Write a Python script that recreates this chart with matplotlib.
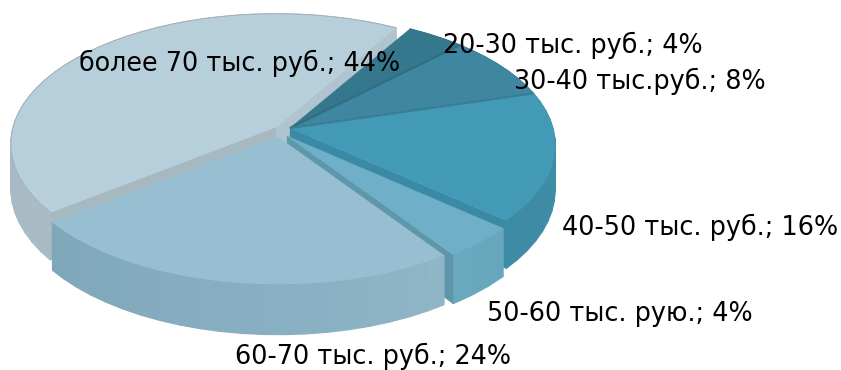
import numpy as np
import matplotlib
matplotlib.use('Agg')
import matplotlib.pyplot as plt
from matplotlib.patches import Polygon

# pie slices, clockwise from the top
labels = ['20-30 тыс. руб.; 4%', '30-40 тыс.руб.; 8%', '40-50 тыс. руб.; 16%',
          '50-60 тыс. рую.; 4%', '60-70 тыс. руб.; 24%', 'более 70 тыс. руб.; 44%']
values = [4, 8, 16, 4, 24, 44]

# colours per slice: top face, outer side (two ends), cut walls
top_colors = ['#35788d', '#3f87a1', '#429ab6', '#6fb0c8', '#98bfd1', '#b7cfdb']
side_colors = [('#2f6b7e', '#2f6b7e'), ('#387a90', '#387a90'), ('#3f8da8', '#3e8ba5'),
               ('#68a6bc', '#6aa8be'), ('#8fb5c7', '#7fa7ba'), ('#a9bcc5', '#a0b2bb')]
wall_colors = ['#2f6f83', '#3a7e95', '#3a8aa5', '#5f97aa', '#7fa7ba', '#afc4ce']
upper_wall = '#a6b8c0'

# which cut walls face the viewer
start_wall = [False, False, False, False, False, True]
end_wall = [False, False, True, True, False, True]

# how far each slice is pulled out, in pixels
shift_x = [0, 0, 0, -3, -12, -14]
shift_y = [0, 0, 0, 8, 9, -1]

# label placement
label_x = [443, 514, 562, 487, 235, 79]
label_y = [53, 89, 235, 321, 364, 71]

START = 59.5
CX, CY = 290, 128
RX, RY = 263, 128
PERSP = 0.13
DEPTH = 44


def project(a):
    u = np.cos(np.radians(a))
    v = np.sin(np.radians(a))
    w = 1 + PERSP * v
    return CX + RX * u / w, CY - RY * v / w, DEPTH / w


fig = plt.figure(figsize=(8.41, 3.70), dpi=100)
ax = fig.add_axes([0, 0, 1, 1])
ax.set_xlim(0, 841)
ax.set_ylim(370, 0)
ax.axis('off')

ends = START - np.cumsum(values) * 3.6
starts = np.r_[START, ends[:-1]]


def draw_wall(apex, wx, wy, wh, col, z):
    ax.add_patch(Polygon([apex, (wx, wy), (wx, wy + wh), (apex[0], apex[1] + DEPTH)],
                         fc=col, ec=col, lw=0.3, zorder=z))


def draw_slice(i):
    a0, a1 = starts[i], ends[i]
    sx, sy = shift_x[i], shift_y[i]
    arc = np.linspace(a0, a1, max(int(abs(a1 - a0) / 4), 3) + 1)
    x, y, h = project(arc)
    x, y = x + sx, y + sy
    apex = (CX + sx, CY + sy)
    z = i_order[i]

    # outer side in narrow bands
    c0 = np.array(matplotlib.colors.to_rgb(side_colors[i][0]))
    c1 = np.array(matplotlib.colors.to_rgb(side_colors[i][1]))
    for k in range(len(arc) - 1):
        t = k / max(len(arc) - 2, 1)
        col = c0 + (c1 - c0) * t
        ax.add_patch(Polygon([(x[k], y[k]), (x[k + 1], y[k + 1]),
                              (x[k + 1], y[k + 1] + h[k + 1]), (x[k], y[k] + h[k])],
                             fc=col, ec=col, lw=0.8, zorder=z))

    # cut walls go over the side
    if start_wall[i]:
        draw_wall(apex, x[0], y[0], h[0], upper_wall, z + 0.2)
    if end_wall[i]:
        draw_wall(apex, x[-1], y[-1], h[-1], wall_colors[i], z + 0.2)

    # top face
    pts = [apex] + list(zip(x, y))
    ax.add_patch(Polygon(pts, fc=top_colors[i], ec=top_colors[i], lw=0.3, zorder=z + 0.5))
    if i == 5:
        ax.plot(x[arc < 170], y[arc < 170], color='#a5aeb2', lw=0.6, zorder=z + 0.6)
    if i < 2:
        # darker seam between the neighbouring teal slices
        ax.plot([apex[0], x[-1]], [apex[1], y[-1]], color=wall_colors[i], lw=1.6,
                solid_capstyle='butt', zorder=7)


# back slices first so the nearer ones sit on top
i_order = {5: 1, 0: 2, 1: 3, 2: 4, 3: 5, 4: 6}
for i in sorted(i_order, key=i_order.get):
    draw_slice(i)

for name, lx, ly in zip(labels, label_x, label_y):
    ax.text(lx, ly, name, fontsize=18.4, color='black', ha='left', va='baseline',
            family='DejaVu Sans', zorder=10)

fig.savefig('out.png', dpi=100)
